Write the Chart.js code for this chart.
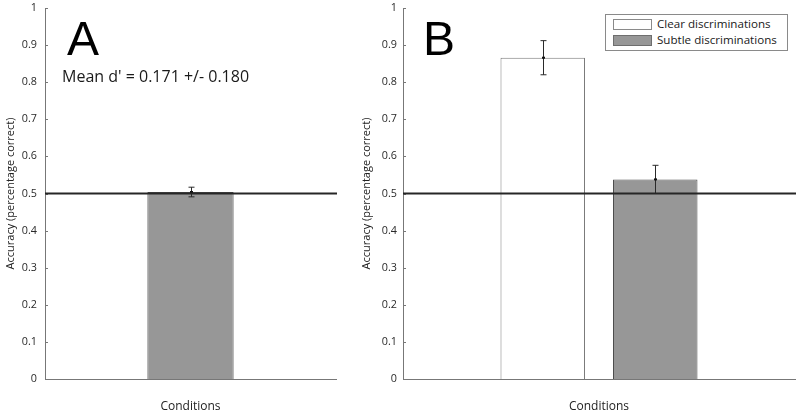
<!DOCTYPE html>
<html>
<head>
<meta charset="utf-8">
<script src="https://cdn.jsdelivr.net/npm/chart.js@4.4.1/dist/chart.umd.min.js"></script>
<style>
  html, body { margin: 0; padding: 0; background: #fff; }
  #wrap { position: relative; width: 800px; height: 416px; overflow: hidden; }
  canvas { position: absolute; top: 0; }
  #panelA { left: 0; }
  #panelB { left: 360px; }
  .legend-box { position: absolute; left: 605px; top: 14px; width: 181px; height: 35px; border: 1px solid #8a8a8a; background: #fff; }
  .swatch { position: absolute; left: 613px; width: 37px; height: 9px; border: 1px solid #6e6e6e; }
  .legend-text { position: absolute; left: 657px; font: 11.6px "Open Sans"; line-height: 14px; color: #1a1a1a; white-space: nowrap; }
</style>
</head>
<body>
<div id="wrap">
  <canvas id="panelA" width="360" height="416"></canvas>
  <canvas id="panelB" width="440" height="416"></canvas>
  <div class="legend-box"></div>
  <div class="swatch" id="sw1" style="top:19px;"></div>
  <div class="legend-text" id="lg1" style="top:17.4px;"></div>
  <div class="swatch" id="sw2" style="top:35px;"></div>
  <div class="legend-text" id="lg2" style="top:33.4px;"></div>
</div>
<script>
// DATA
const categories = ['Conditions'];
const yTickLabels = ['0', '0.1', '0.2', '0.3', '0.4', '0.5', '0.6', '0.7', '0.8', '0.9', '1'];
const panelAMeans = [0.504];
const panelAErrors = [0.013];
const clearMeans = [0.866];
const clearErrors = [0.046];
const subtleMeans = [0.538];
const subtleErrors = [0.038];
const chanceLevel = 0.5;
const seriesNames = ['Clear discriminations', 'Subtle discriminations'];
const dPrimeNote = "Mean d' = 0.171 +/- 0.180";

const GREY = '#979797';
const GREY_EDGE = '#4d4d4d';
const WHITE_EDGE = '#7a7a7a';
const AXIS = '#777777';

// LEGEND (B)
document.getElementById('sw1').style.background = '#ffffff';
document.getElementById('sw1').style.borderColor = '#8a8a8a';
document.getElementById('sw2').style.background = GREY;
document.getElementById('lg1').textContent = seriesNames[0];
document.getElementById('lg2').textContent = seriesNames[1];

// error bars, chance line, inward ticks, panel letter
const decor = {
  id: 'decor',
  afterDatasetsDraw(chart, args, opts) {
    const ctx = chart.ctx;
    const y = chart.scales.y;
    const area = chart.chartArea;
    ctx.save();

    // inward ticks on the y axis
    ctx.strokeStyle = AXIS;
    ctx.lineWidth = 1;
    y.ticks.forEach(t => {
      const py = Math.round(y.getPixelForValue(t.value)) + 0.5;
      ctx.beginPath();
      ctx.moveTo(area.left, py);
      ctx.lineTo(area.left + 3, py);
      ctx.stroke();
    });

    // error bars
    ctx.strokeStyle = '#2a2a2a';
    ctx.fillStyle = '#111';
    chart.data.datasets.forEach((ds, i) => {
      const meta = chart.getDatasetMeta(i);
      meta.data.forEach((el, j) => {
        const v = ds.data[j], e = ds.errors[j];
        const x = Math.round(el.x) + 0.5;
        const top = y.getPixelForValue(v + e);
        const bot = y.getPixelForValue(v - e);
        ctx.beginPath();
        ctx.moveTo(x, top); ctx.lineTo(x, bot);
        ctx.moveTo(x - 3, top); ctx.lineTo(x + 3, top);
        ctx.moveTo(x - 3, bot); ctx.lineTo(x + 3, bot);
        ctx.stroke();
        ctx.fillRect(x - 1.5, y.getPixelForValue(v) - 1, 3, 2);
      });
    });

    // chance line
    const cy = y.getPixelForValue(chanceLevel);
    ctx.strokeStyle = '#262626';
    ctx.lineWidth = 1.8;
    ctx.beginPath();
    ctx.moveTo(area.left, cy);
    ctx.lineTo(area.right + 1, cy);
    ctx.stroke();

    // panel letter
    ctx.fillStyle = '#000';
    ctx.textBaseline = 'alphabetic';
    ctx.font = '48px "Liberation Sans"';
    ctx.fillText(opts.letter, area.left + opts.letterDx, 55);
    if (opts.note) {
      ctx.font = '16px "Open Sans"';
      ctx.fillStyle = '#1a1a1a';
      ctx.fillText(opts.note, 62, 82);
    }
    ctx.restore();
  }
};

function makePanel(id, datasets, p) {
  return new Chart(document.getElementById(id), {
    type: 'bar',
    data: { labels: categories, datasets },
    plugins: [decor],
    options: {
      responsive: false,
      animation: false,
      layout: { padding: { top: 8, right: p.padRight, left: 0, bottom: 0 } },
      datasets: { bar: { categoryPercentage: p.catPct, barPercentage: p.barPct } },
      scales: {
        x: {
          grid: { display: false },
          border: { display: true, color: AXIS, width: 1 },
          ticks: { display: false },
          title: {
            display: true, text: 'Conditions', color: '#222',
            font: { family: 'Open Sans', size: 12 }, padding: { top: 0, bottom: 2 }
          },
          afterFit(s) { s.height = 37; s.paddingLeft = 0; s.paddingRight = 0; }
        },
        y: {
          min: 0, max: 1,
          grid: { display: false, drawTicks: false },
          border: { display: true, color: AXIS, width: 1 },
          ticks: {
            stepSize: 0.1, autoSkip: false, padding: p.tickPad, color: '#2a2a2a',
            font: { family: 'Open Sans', size: 10.8 },
            callback: (v, i) => yTickLabels[i]
          },
          title: {
            display: true, text: 'Accuracy (percentage correct)', color: '#222',
            font: { family: 'Open Sans', size: 11 }, padding: { top: p.titlePad, bottom: 0 }
          },
          afterFit(s) { s.width = p.axisWidth; s.paddingTop = 0; s.paddingBottom = 0; }
        }
      },
      plugins: {
        legend: { display: false },
        tooltip: { enabled: false },
        decor: { letter: p.letter, letterDx: p.letterDx, note: p.note }
      }
    }
  });
}

const chartA = makePanel('panelA', [{
  label: 'Subtle discriminations',
  data: panelAMeans,
  errors: panelAErrors,
  backgroundColor: GREY, borderColor: GREY_EDGE, borderWidth: 1
}], { padRight: 24, catPct: 0.39, barPct: 0.76, tickPad: 8, titlePad: 4, axisWidth: 45, letter: 'A', letterDx: 22, note: dPrimeNote });

const chartB = makePanel('panelB', [{
  label: seriesNames[0],
  data: clearMeans,
  errors: clearErrors,
  backgroundColor: '#ffffff', borderColor: WHITE_EDGE, borderWidth: 1
}, {
  label: seriesNames[1],
  data: subtleMeans,
  errors: subtleErrors,
  backgroundColor: GREY, borderColor: GREY_EDGE, borderWidth: 1
}], { padRight: 5, catPct: 0.574, barPct: 0.751, tickPad: 6, titlePad: 0, axisWidth: 43, letter: 'B', letterDx: 20, note: null });
</script>
</body>
</html>
